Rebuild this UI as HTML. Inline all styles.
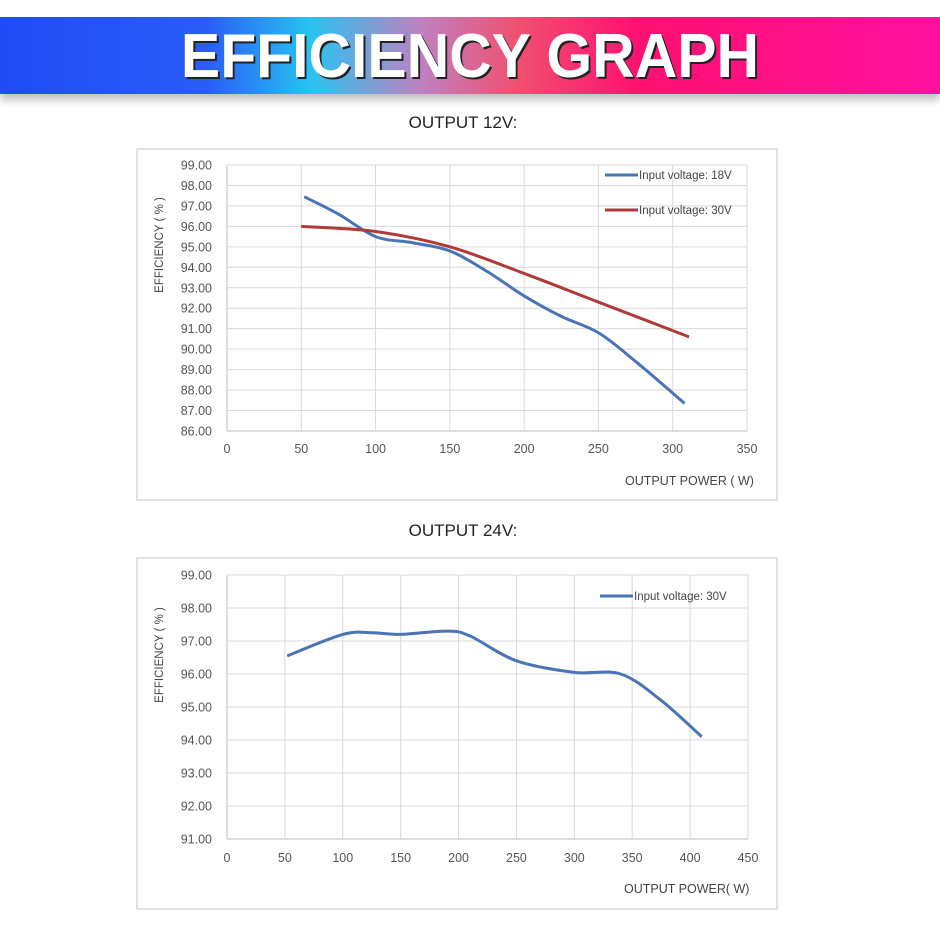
<!DOCTYPE html>
<html><head><meta charset="utf-8"><style>
html,body{margin:0;padding:0;background:#fff;width:940px;height:940px;overflow:hidden}
#hdr{position:absolute;left:0;top:17px;width:940px;height:77px;
background:linear-gradient(90deg,#1f4cf5 0%,#2a5cf8 22%,#28c3f0 33%,#c080c0 45%,#f05070 55%,#ff1070 68%,#ff10a0 100%);
box-shadow:0 6px 8px rgba(0,0,0,0.25)}
#hdr span{position:absolute;left:0;width:940px;text-align:center;top:4px;font:bold 62px "Liberation Sans",sans-serif;color:#fff;letter-spacing:0px;text-shadow:2px 2px 0 #222;transform:scaleX(0.95)}
svg{position:absolute;left:0;top:0}
</style></head><body>
<div id="hdr"><span>EFFICIENCY GRAPH</span></div>
<svg width="940" height="940" id="s" font-family="Liberation Sans, sans-serif"></svg>
<script>
const S=document.getElementById('s');let h='';
h+='<text x="463" y="128" font-size="17" text-anchor="middle" fill="#222">OUTPUT 12V:</text>';
h+='<text x="463" y="536" font-size="17" text-anchor="middle" fill="#222">OUTPUT 24V:</text>';
function chart(box,x0,x1,xmax,xstep,y0,ymax,ymin,ypx,xl,yl,series,legend,xtitle){
 h+=`<rect x="${box[0]}" y="${box[1]}" width="${box[2]}" height="${box[3]}" fill="none" stroke="#d9d9d9" stroke-width="1.5"/>`;
 const X=v=>x0+v*(x1-x0)/xmax, Y=v=>y0+(ymax-v)*ypx;
 for(let v=ymin;v<=ymax;v++){h+=`<line x1="${x0}" x2="${x1}" y1="${Y(v)}" y2="${Y(v)}" stroke="#d9d9d9"/>`;
  h+=`<text x="212" y="${Y(v)+4.5}" font-size="12.5" text-anchor="end" fill="#555">${v.toFixed(2)}</text>`;}
 for(let v=0;v<=xmax;v+=xstep){h+=`<line x1="${X(v)}" x2="${X(v)}" y1="${y0}" y2="${Y(ymin)}" stroke="${v?'#d9d9d9':'#bfbfbf'}"/>`;
  h+=`<text x="${X(v)}" y="${xl}" font-size="12.5" text-anchor="middle" fill="#555">${v}</text>`;}
 h+=`<line x1="${x0}" x2="${x1}" y1="${Y(ymin)}" y2="${Y(ymin)}" stroke="#bfbfbf"/>`;
 h+=`<text transform="translate(163 ${yl}) rotate(-90)" font-size="11.5" text-anchor="middle" fill="#444">EFFICIENCY ( % )</text>`;
 h+=`<text x="${xtitle[0]}" y="${xtitle[1]}" font-size="12.5" fill="#444">${xtitle[2]}</text>`;
 series.forEach(([pts,c])=>{const p=pts.map(([a,b])=>[X(a),Y(b)]);let d=`M${p[0]}`;
  for(let i=0;i<p.length-1;i++){const a=p[i-1]||p[i],b=p[i],c2=p[i+1],e=p[i+2]||c2;
   d+=` C${b[0]+(c2[0]-a[0])/6},${b[1]+(c2[1]-a[1])/6} ${c2[0]-(e[0]-b[0])/6},${c2[1]-(e[1]-b[1])/6} ${c2[0]},${c2[1]}`;}
  h+=`<path d="${d}" fill="none" stroke="${c}" stroke-width="3"/>`;});
 legend.forEach(([x,y,c,t])=>{h+=`<line x1="${x}" x2="${x+33}" y1="${y}" y2="${y}" stroke="${c}" stroke-width="3"/><text x="${x+34}" y="${y+4}" font-size="11.5" fill="#444">${t}</text>`;});
}
const B='#4a74b4',R='#b03a3a';
chart([137,149,640,351],227,747,350,50,165,99,86,20.46,453,245,
 [[[[52,97.45],[75,96.6],[100,95.5],[125,95.2],[150,94.8],[175,93.8],[200,92.6],[225,91.6],[250,90.8],[275,89.4],[308,87.35]],B],
  [[[50,96],[100,95.75],[150,95],[200,93.7],[250,92.3],[311,90.6]],R]],
 [[605,175,B,'Input voltage: 18V'],[605,210,R,'Input voltage: 30V']],[625,485,'OUTPUT POWER ( W)']);
chart([137,558,640,351],227,748,450,50,575,99,91,33,862,655,
 [[[[52,96.55],[100,97.2],[125,97.25],[150,97.2],[190,97.3],[210,97.15],[250,96.4],[300,96.05],[340,96.0],[375,95.2],[410,94.1]],B]],
 [[600,596,B,'Input voltage: 30V']],[624,893,'OUTPUT POWER( W)']);
S.innerHTML=h;
</script>
</body></html>
